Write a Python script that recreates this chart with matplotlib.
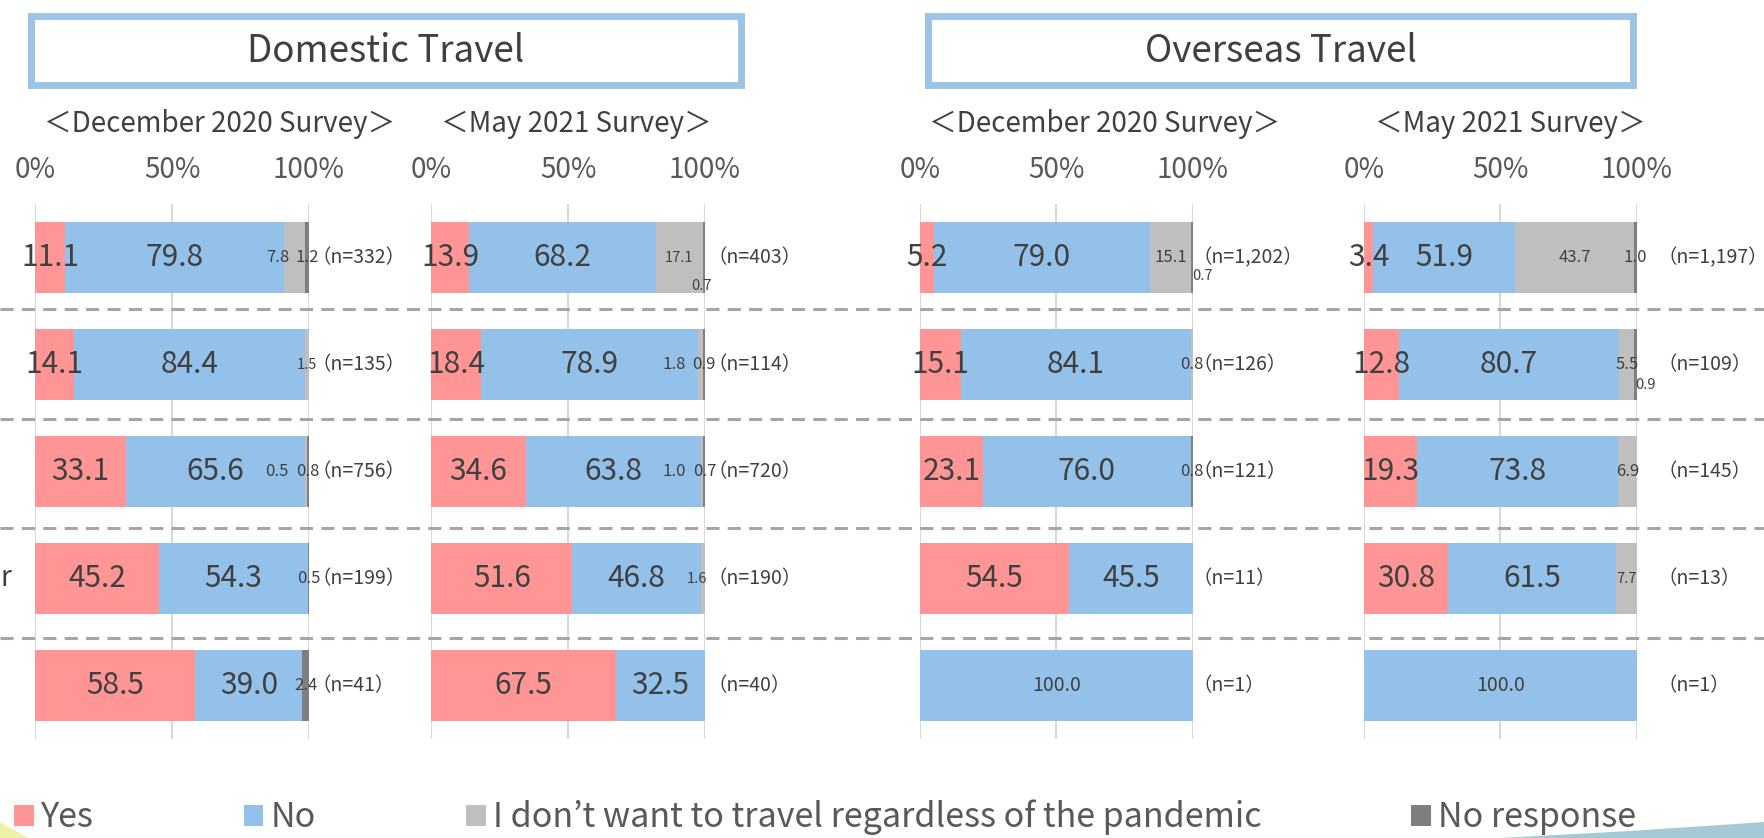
import matplotlib.pyplot as plt
from matplotlib import transforms
from matplotlib.patches import Rectangle, Polygon, Patch
from matplotlib.lines import Line2D

plt.rcParams['font.family'] = ['Noto Sans CJK JP', 'DejaVu Sans']

W, H = 1765, 838

series = ['Yes', 'No', 'I don’t want to travel regardless of the pandemic', 'No response']
colors = ['#FF9595', '#93C1EA', '#BFBFBF', '#7F7F7F']

# Domestic travel, December 2020
dom_dec_yes = [11.1, 14.1, 33.1, 45.2, 58.5]
dom_dec_no = [79.8, 84.4, 65.6, 54.3, 39.0]
dom_dec_dont = [7.8, 1.5, 0.5, 0.0, 0.0]
dom_dec_nr = [1.2, 0.0, 0.8, 0.5, 2.4]
dom_dec_n = ['332', '135', '756', '199', '41']

# Domestic travel, May 2021
dom_may_yes = [13.9, 18.4, 34.6, 51.6, 67.5]
dom_may_no = [68.2, 78.9, 63.8, 46.8, 32.5]
dom_may_dont = [17.1, 1.8, 1.0, 1.6, 0.0]
dom_may_nr = [0.7, 0.9, 0.7, 0.0, 0.0]
dom_may_n = ['403', '114', '720', '190', '40']

# Overseas travel, December 2020
ovs_dec_yes = [5.2, 15.1, 23.1, 54.5, 0.0]
ovs_dec_no = [79.0, 84.1, 76.0, 45.5, 100.0]
ovs_dec_dont = [15.1, 0.8, 0.0, 0.0, 0.0]
ovs_dec_nr = [0.7, 0.0, 0.8, 0.0, 0.0]
ovs_dec_n = ['1,202', '126', '121', '11', '1']

# Overseas travel, May 2021
ovs_may_yes = [3.4, 12.8, 19.3, 30.8, 0.0]
ovs_may_no = [51.9, 80.7, 73.8, 61.5, 100.0]
ovs_may_dont = [43.7, 5.5, 6.9, 7.7, 0.0]
ovs_may_nr = [1.0, 0.9, 0.0, 0.0, 0.0]
ovs_may_n = ['1,197', '109', '145', '13', '1']

panels = [
    [dom_dec_yes, dom_dec_no, dom_dec_dont, dom_dec_nr, dom_dec_n],
    [dom_may_yes, dom_may_no, dom_may_dont, dom_may_nr, dom_may_n],
    [ovs_dec_yes, ovs_dec_no, ovs_dec_dont, ovs_dec_nr, ovs_dec_n],
    [ovs_may_yes, ovs_may_no, ovs_may_dont, ovs_may_nr, ovs_may_n],
]
subtitles = ['＜December 2020 Survey＞', '＜May 2021 Survey＞',
             '＜December 2020 Survey＞', '＜May 2021 Survey＞']

# layout in pixels
ax_x = [(35, 309), (431, 705), (920, 1193), (1364, 1637)]
ax_top, ax_bot = 204, 739
sub_x = [220, 576, 1105, 1510]
n_x = [101, 101, 100, 107.5]        # start of the (n=..) label, in % units
# hand-moved small labels: (panel, row, segment) -> (dx px, dy px)
moved = {(0, 0, 2): (-17, 0), (0, 2, 2): (-29, 0), (1, 1, 2): (-26, 0),
         (1, 2, 2): (-28, 0), (1, 3, 2): (-6, 0), (1, 0, 3): (-2, 28),
         (2, 0, 3): (10, 18), (3, 1, 3): (10, 20)}
# smaller font for a few of the small labels
tiny = {(0, 1, 2), (1, 0, 2), (1, 3, 2), (1, 0, 3), (2, 0, 3), (3, 1, 3), (3, 3, 2)}

txt = '#404040'


def fx(x):
    return x / W


def fy(y):
    return 1 - y / H


fig = plt.figure(figsize=(W / 100, H / 100), dpi=100)

# title boxes
for (x0, x1), title in [((28, 744), 'Domestic Travel'), ((925, 1636), 'Overseas Travel')]:
    fig.patches.append(Rectangle((fx(x0 + 3), fy(85)), fx(x1 - x0 - 6), (85 - 16) / H,
                                 transform=fig.transFigure, fill=False,
                                 edgecolor='#9DC3E6', lw=5))
    fig.text(fx((x0 + x1) / 2), fy(51), title, ha='center', va='center',
             fontsize=26.5, color=txt)

axes = []
for p, (x0, x1) in enumerate(ax_x):
    ax = fig.add_axes([fx(x0), fy(ax_bot), (x1 - x0) / W, (ax_bot - ax_top) / H])
    axes.append(ax)
    pxw = 100 / (x1 - x0)
    pxh = 5 / (ax_bot - ax_top)
    vals = panels[p][:4]
    rows = range(len(vals[0]))
    left = [0.0] * len(vals[0])
    for s in range(4):
        ax.barh(list(rows), vals[s], left=left, height=0.66, color=colors[s], zorder=2)
        for r in rows:
            v = vals[s][r]
            if v > 0:
                cx = left[r] + v / 2
                cy = r
                if s < 2:
                    fs = 14 if v == 100 else 21.5
                else:
                    fs = 10.5 if (p, r, s) in tiny else 12
                dx, dy = moved.get((p, r, s), (0, 0))
                ax.text(cx + dx * pxw, cy + dy * pxh, f'{v:.1f}', ha='center', va='center',
                        fontsize=fs, color=txt, zorder=4)
        left = [a + b for a, b in zip(left, vals[s])]
    for r in rows:
        ax.text(n_x[p], r, '（n=' + panels[p][4][r] + '）', ha='left', va='center',
                fontsize=14, color=txt, clip_on=False)
    ax.set_xlim(0, 100)
    ax.set_ylim(4.5, -0.5)
    ax.set_xticks([0, 50, 100])
    ax.set_xticklabels(['0%', '50%', '100%'])
    ax.xaxis.tick_top()
    ax.tick_params(axis='x', length=0, pad=14, labelsize=20, labelcolor='#595959')
    ax.set_yticks([])
    for sp in ax.spines.values():
        sp.set_visible(False)
    ax.grid(axis='x', color='#D9D9D9', lw=1.5, zorder=0)
    ax.set_axisbelow(True)
    fig.text(fx(sub_x[p]), fy(124), subtitles[p], ha='center', va='center',
             fontsize=20, color=txt)

# dashed separators across the full width
tr = transforms.blended_transform_factory(fig.transFigure, axes[0].transData)
for yy in [0.48, 1.51, 2.53, 3.56]:
    fig.lines.append(Line2D([0, 1], [yy, yy], transform=tr, color='#A6A6A6',
                            lw=2.2, dashes=(4.3, 2.7), zorder=3))

# cut-off category label
fig.text(fx(11), fy(578), 'r', ha='right', va='center', fontsize=20, color=txt)

# legend
handles = [Patch(facecolor=c, edgecolor='none') for c in colors]
fig.legend(handles, series, loc='lower left', bbox_to_anchor=(fx(7), fy(842)),
           ncol=4, frameon=False, fontsize=24.5, labelcolor='#595959',
           handlelength=0.58, handleheight=0.58, handletextpad=0.22,
           columnspacing=4.4, borderpad=0.2, borderaxespad=0)

# decorative swooshes
fig.patches.append(Polygon([(fx(1500), fy(838)), (fx(1630), fy(831)), (fx(1765), fy(822)),
                            (fx(1765), fy(838))], closed=True, transform=fig.transFigure,
                           facecolor='#A5CAD6', edgecolor='none'))
fig.patches.append(Polygon([(fx(0), fy(822)), (fx(28), fy(838)), (fx(0), fy(838))],
                           closed=True, transform=fig.transFigure,
                           facecolor='#EEF2A6', edgecolor='none'))

fig.savefig('out.png', dpi=100)
